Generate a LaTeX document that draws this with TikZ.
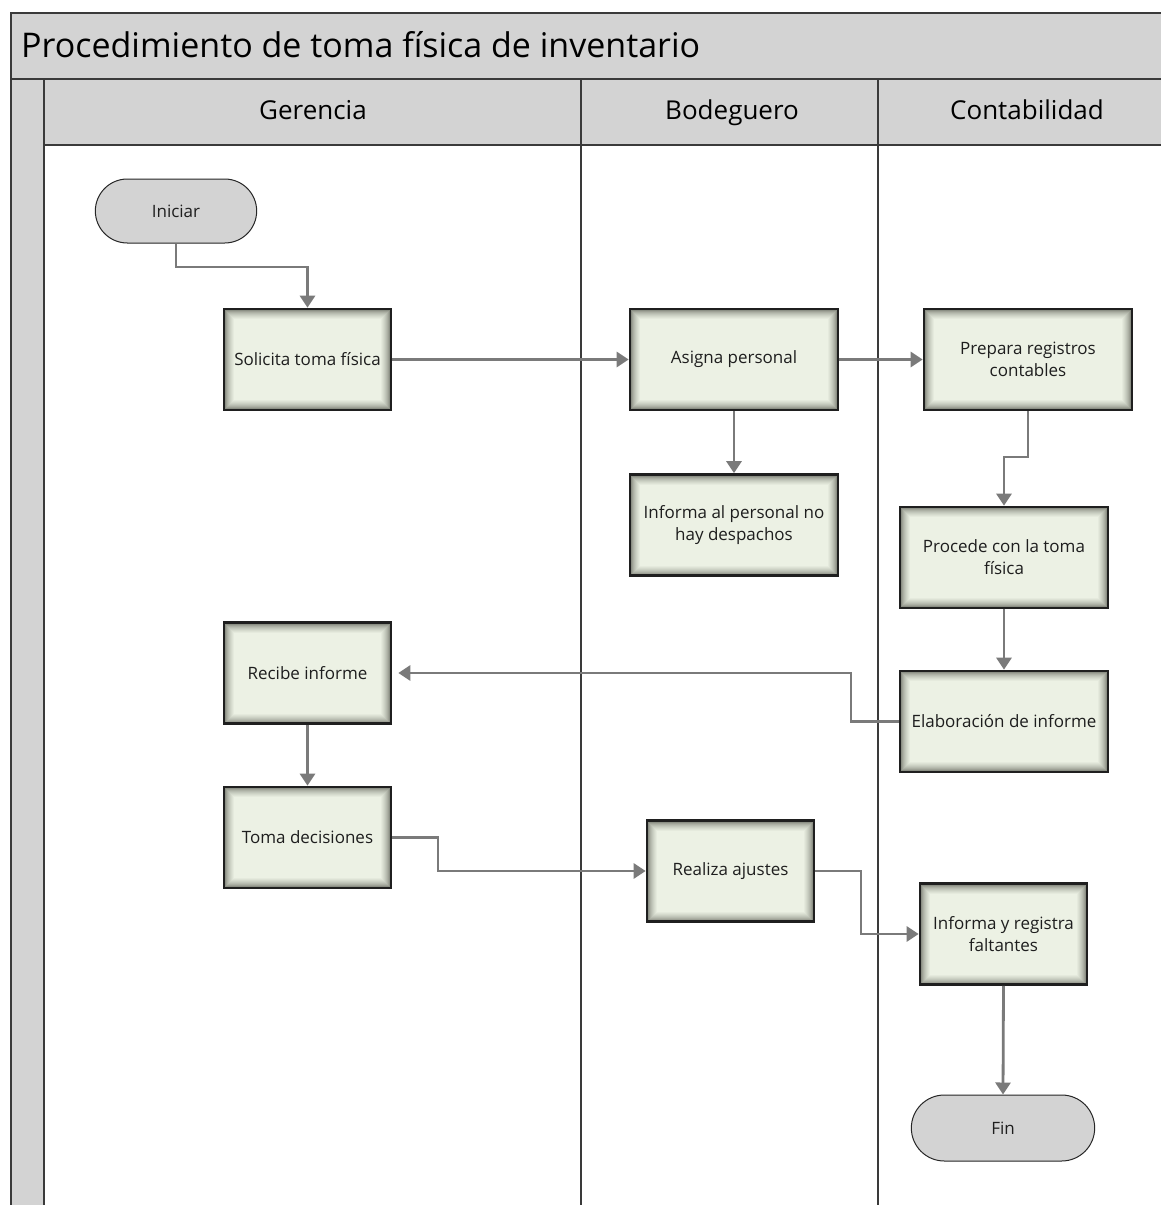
\documentclass[tikz,border=0pt]{standalone}
\usepackage{fontspec}
\setmainfont{Open Sans}
\usetikzlibrary{arrows.meta,shapes.misc}
\definecolor{bandgray}{HTML}{D3D3D3}
\definecolor{framecol}{HTML}{3A3A3A}
\definecolor{vin}{HTML}{ECF1E4}
\definecolor{vout}{HTML}{5E6157}
\definecolor{conncol}{HTML}{7A7A7A}
\definecolor{txtcol}{HTML}{1E1E1E}
\tikzset{
  procbox/.style={rectangle, draw=black!88, line width=2.6pt, align=center,
    text=txtcol, font=\fontsize{17}{22}\selectfont, minimum height=101pt,
    path picture={
      \foreach \i in {0,...,10}{
        \pgfmathsetmacro{\m}{100*(\i/10)^0.5}
        \fill[vin!\m!vout] ([shift={(\i pt,\i pt)}]path picture bounding box.south west)
          rectangle ([shift={(-\i pt,-\i pt)}]path picture bounding box.north east);
      }
    }},
  termbox/.style={rounded rectangle, draw=black!85, line width=1pt, fill=bandgray,
    text=txtcol, font=\fontsize{17}{22}\selectfont, minimum height=64pt},
  conn/.style={draw=conncol, line width=2.8pt, -{Triangle[width=15pt,length=12pt]}},
  lanehead/.style={font=\fontsize{26}{30}\selectfont, text=black, anchor=base},
  frameline/.style={draw=framecol, line width=1.6pt},
}
\begin{document}
\begin{tikzpicture}[x=1pt,y=-1pt]
\useasboundingbox (0,0) rectangle (1160,1205);
% frame and bands
\fill[bandgray] (11,13) rectangle (1165,79);
\fill[bandgray] (11,79) rectangle (44,1210);
\fill[bandgray] (44,79) rectangle (1165,145);
\draw[frameline] (1165,13) -- (11,13) -- (11,1210);
\draw[frameline] (11,79) -- (1165,79);
\draw[frameline] (44,79) -- (44,1210);
\draw[frameline, line width=1.2pt] (44,145) -- (1165,145);
\draw[framecol, line width=1.2pt] (581,79) -- (581,1210);
\draw[framecol, line width=1.2pt] (878,79) -- (878,1210);
% title and lane headers
\node[anchor=base west, font=\fontsize{34}{38}\selectfont, inner sep=0pt] (title) at (21,57) {Procedimiento de toma física de inventario};
\node[lanehead] (hger) at (313,119) {Gerencia};
\node[lanehead] (hbod) at (732,119) {Bodeguero};
\node[lanehead] (hcon) at (1027,119) {Contabilidad};
% nodes
\node[termbox, minimum width=168pt] (ini) at (176,211) {Iniciar};
\node[procbox, minimum width=167pt] (sol) at (307.5,359.5) {Solicita toma física};
\node[procbox, minimum width=208pt] (asi) at (734,359.5) {Asigna personal};
\node[procbox, minimum width=208pt] (pre) at (1028,359.5) {Prepara registros\\contables};
\node[procbox, minimum width=208pt] (inf) at (734,525) {Informa al personal no\\hay despachos};
\node[procbox, minimum width=208pt] (pro) at (1004,557.5) {Procede con la toma\\física};
\node[procbox, minimum width=167pt] (rec) at (307.5,673) {Recibe informe};
\node[procbox, minimum width=208pt] (ela) at (1004,721.5) {Elaboración de informe};
\node[procbox, minimum width=167pt] (tom) at (307.5,837.5) {Toma decisiones};
\node[procbox, minimum width=167pt] (rea) at (730.5,871) {Realiza ajustes};
\node[procbox, minimum width=167pt] (irf) at (1003.5,934) {Informa y registra\\faltantes};
\node[termbox, minimum width=190pt, minimum height=66pt] (fin) at (1003,1128) {Fin};
% connectors
\draw[conn] (ini.south) -- (ini.south |- 0,267) -| (sol.north);
\draw[conn] (sol.east) -- (asi.west);
\draw[conn] (asi.east) -- (pre.west);
\draw[conn] (asi.south) -- (inf.north);
\draw[conn] (pre.south) -- (pre.south |- 0,457) -| (pro.north);
\draw[conn] (pro.south) -- (ela.north);
\draw[conn, shorten >=6pt] (ela.west) -- (851,721.5) |- (rec.east);
\draw[conn] (rec.south) -- (tom.north);
\draw[conn] (tom.east) -- (438,837.5) |- (rea.west);
\draw[conn] (rea.east) -- (861,871) |- (irf.west);
\draw[conn] (irf.south) -- (fin.north);
\end{tikzpicture}
\end{document}
